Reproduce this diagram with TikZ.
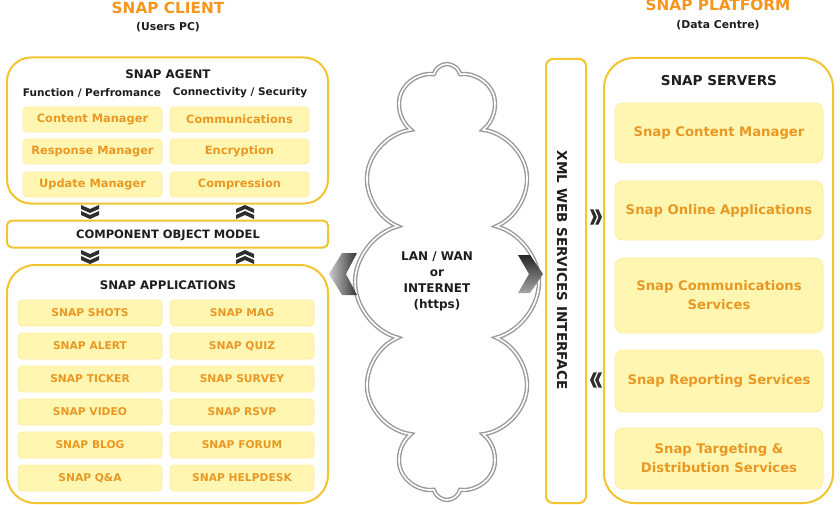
\documentclass[tikz,border=0pt]{standalone}
\usepackage{fontspec}
\setmainfont{DejaVu Sans}
\usetikzlibrary{shapes.symbols}

\definecolor{snapgold}{RGB}{242,196,48}
\definecolor{snapfill}{RGB}{255,246,178}
\definecolor{snapline}{RGB}{255,238,160}
\definecolor{snaporange}{RGB}{234,152,36}
\definecolor{snaptitle}{RGB}{246,150,30}
\definecolor{snapdark}{RGB}{30,30,30}

\tikzset{
    bigbox/.style={draw=snapgold, line width=2pt, fill=white, rounded corners=#1, inner sep=0pt},
    cell/.style={fill=snapfill, draw=snapline, line width=0.8pt, rounded corners=4pt, inner sep=0pt,
        text=snaporange, font=\bfseries\fontsize{11.4}{12}\selectfont},
    head/.style={text=snapdark, font=\bfseries\fontsize{#1}{#1}\selectfont, inner sep=0pt},
    dchev/.pic={
        \foreach \d in {0,6}
            \fill[black!82] (-9,\d-7) -- (0,\d-3) -- (9,\d-7) -- (9,\d-3) -- (0,\d+1) -- (-9,\d-3) -- cycle;
    },
}

\begin{document}
\begin{tikzpicture}[x=1pt, y=-1pt]
            \useasboundingbox (0,0) rectangle (840,505);

            % titles
            \node[text=snaptitle, font=\bfseries\fontsize{15.3}{15}\selectfont] (client) at (168,8) {SNAP CLIENT};
            \node[head=10.8] (userspc) at (168,27) {(Users PC)};
            \node[text=snaptitle, font=\bfseries\fontsize{15.3}{15}\selectfont] (platform) at (718,5) {SNAP PLATFORM};
            \node[head=10.8] (datacentre) at (718,25) {(Data Centre)};

            % snap agent
            \node[bigbox=24pt, minimum width=321pt, minimum height=146pt] (agent) at (167.5,130.5) {};
            \node[head=11.8] (agenthead) at (168,74) {SNAP AGENT};
            \node[head=10.5] (func) at (92,93) {Function / Perfromance};
            \node[head=10.5] (conn) at (240,93) {Connectivity / Security};
            \foreach \lname/\rname/\y [count=\i] in {Content Manager/Communications/119.5,
                    Response Manager/Encryption/151.5, Update Manager/Compression/184.5}
            {
                \node[cell, minimum width=139pt, minimum height=25pt] (agentL\i) at (92.5,\y) {\lname};
                \node[cell, minimum width=139pt, minimum height=25pt] (agentR\i) at (239.5,\y) {\rname};
            }

            % component object model
            \node[bigbox=5pt, minimum width=321pt, minimum height=27pt] (com) at (167.5,234) {};
            \node[head=11.5] (comtext) at (168,235) {COMPONENT OBJECT MODEL};
            \pic at (90,212) {dchev};
            \pic[rotate=180] at (245,212) {dchev};
            \pic at (90,257) {dchev};
            \pic[rotate=180] at (245,257) {dchev};

            % snap applications
            \node[bigbox=28pt, minimum width=321pt, minimum height=238pt] (apps) at (167.5,384) {};
            \node[head=11.8] (appshead) at (168,285) {SNAP APPLICATIONS};
            \foreach \lname/\rname [count=\i] in {SNAP SHOTS/SNAP MAG, SNAP ALERT/SNAP QUIZ,
                    SNAP TICKER/SNAP SURVEY, SNAP VIDEO/SNAP RSVP, SNAP BLOG/SNAP FORUM,
                    SNAP Q\&A/SNAP HELPDESK}
            {
                \node[cell, font=\bfseries\fontsize{10.7}{12}\selectfont, minimum width=144pt, minimum height=26pt]
                    (appL\i) at (90,280+33*\i) {\lname};
                \node[cell, font=\bfseries\fontsize{10.7}{12}\selectfont, minimum width=144pt, minimum height=26pt]
                    (appR\i) at (242,280+33*\i) {\rname};
            }

            % network cloud
            \node[cloud, cloud puffs=12, cloud ignores aspect, draw=gray!80, double=white, double distance=1.6pt,
                line width=1.4pt, minimum width=184pt, minimum height=436pt, inner sep=0pt] (net) at (447,282) {};
            \node[head=12, align=center, font=\bfseries\fontsize{12}{16}\selectfont] (nettext) at (437,281)
                {LAN / WAN\\or\\INTERNET\\(https)};
            \shade[left color=gray!40, right color=black!80]
                (342,253) -- (357,253) -- (346,274) -- (357,295) -- (342,295) -- (329,274) -- cycle;
            \shade[top color=black!85, bottom color=gray!70]
                (518,255) -- (530,255) -- (543,274) -- (530,293) -- (518,293) -- (529,274) -- cycle;

            % xml interface
            \node[bigbox=7pt, minimum width=40pt, minimum height=444pt] (xml) at (566,281) {};
            \node[head=13.6, rotate=-90] (xmltext) at (562,270) {XML WEB SERVICES INTERFACE};
            \pic[rotate=90, scale=0.85] at (596,217) {dchev};
            \pic[rotate=-90, scale=0.85] at (596,380) {dchev};

            % snap servers
            \node[bigbox=30pt, minimum width=229pt, minimum height=445pt] (servers) at (718.5,280.5) {};
            \node[head=13.6] (servershead) at (719,81) {SNAP SERVERS};
            \foreach \label/\y/\h [count=\i] in {Snap Content Manager/133/60, Snap Online Applications/210.5/59,
                    {Snap Communications\\Services}/295.5/75, Snap Reporting Services/381/62,
                    {Snap Targeting \&\\Distribution Services}/458.5/61}
            {
                \node[cell, rounded corners=8pt, align=center, font=\bfseries\fontsize{13.2}{19}\selectfont,
                    minimum width=208pt, minimum height=\h pt] (server\i) at (719,\y) {\label};
            }
\end{tikzpicture}
\end{document}
